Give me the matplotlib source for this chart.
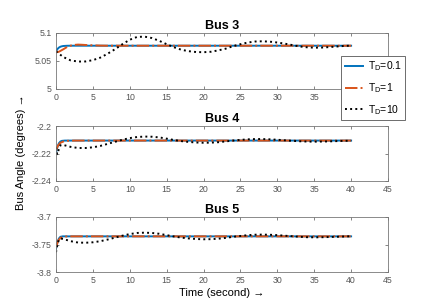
import numpy as np
import matplotlib.pyplot as plt

plt.rcParams['font.family'] = ['Liberation Sans', 'DejaVu Sans']
plt.rcParams['mathtext.fontset'] = 'custom'
plt.rcParams['mathtext.rm'] = 'Liberation Sans'

# ---- data ----
# Bus 3
t3_fast = [0, 0.2, 0.4, 0.6, 0.8, 1.0, 1.5, 2, 40]
b3_fast = [5.067, 5.0715, 5.074, 5.0755, 5.0763, 5.0768, 5.0772, 5.0773, 5.0773]
t3_mid = [0, 0.3, 0.6, 1, 1.5, 2, 2.5, 3, 3.5, 4, 5, 6, 7, 40]
b3_mid = [5.067, 5.066, 5.068, 5.071, 5.075, 5.0775, 5.0788, 5.0793, 5.079,
          5.0786, 5.078, 5.0775, 5.0773, 5.0773]
t_slow = list(range(0, 41))
b3_slow = [5.067, 5.057, 5.051, 5.049, 5.0492, 5.0515, 5.056, 5.063, 5.071, 5.080,
           5.088, 5.093, 5.0935, 5.091, 5.086, 5.080, 5.0745, 5.070, 5.0675, 5.066,
           5.0657, 5.0665, 5.069, 5.072, 5.0765, 5.080, 5.083, 5.0848, 5.0852, 5.0845,
           5.083, 5.081, 5.0785, 5.076, 5.0745, 5.0738, 5.074, 5.0748, 5.0758, 5.0768,
           5.0775]

# Bus 4
t4_fast = [0, 0.2, 0.4, 0.6, 0.8, 1.2, 40]
b4_fast = [-2.2195, -2.215, -2.2125, -2.2113, -2.2108, -2.2106, -2.2106]
t4_mid = [0, 0.3, 0.6, 1, 1.5, 2.5, 40]
b4_mid = [-2.2175, -2.214, -2.2122, -2.2113, -2.2108, -2.2106, -2.2106]
t4_slow = [0, 0.15, 0.35, 0.6] + list(range(1, 41))
b4_slow = [-2.2155, -2.2205, -2.2175, -2.2140,
           -2.2138, -2.2152, -2.2160, -2.2160, -2.2155, -2.2145, -2.2130, -2.2115,
           -2.2100, -2.2088, -2.2080, -2.2077, -2.2078, -2.2083, -2.2092, -2.2102,
           -2.2110, -2.2116, -2.2120, -2.2122, -2.2121, -2.2118, -2.2112, -2.2106,
           -2.2101, -2.2097, -2.2095, -2.2095, -2.2097, -2.2100, -2.2104, -2.2108,
           -2.2111, -2.2113, -2.2114, -2.2113, -2.2112, -2.2110, -2.2108, -2.2107]

# Bus 5
t5_fast = [0, 0.2, 0.4, 0.6, 0.9, 40]
b5_fast = [-3.758, -3.745, -3.739, -3.736, -3.7352, -3.7352]
t5_mid = [0, 0.3, 0.6, 1, 1.5, 40]
b5_mid = [-3.755, -3.743, -3.738, -3.736, -3.7352, -3.7352]
t5_slow = [0, 0.2, 0.4, 0.6] + list(range(1, 41))
b5_slow = [-3.764, -3.750, -3.741, -3.739,
           -3.740, -3.744, -3.7465, -3.7468, -3.746, -3.744, -3.741, -3.7375, -3.734,
           -3.731, -3.729, -3.7285, -3.729, -3.7305, -3.733, -3.7355, -3.7375, -3.739,
           -3.740, -3.7405, -3.7403, -3.7395, -3.738, -3.736, -3.7345, -3.733, -3.7322,
           -3.732, -3.7323, -3.733, -3.734, -3.735, -3.736, -3.7367, -3.737, -3.7368,
           -3.7364, -3.736, -3.7355, -3.735]

titles = ['Bus 3', 'Bus 4', 'Bus 5']
ylims = [(5, 5.1), (-2.24, -2.2), (-3.8, -3.7)]
yticks = [[5, 5.05, 5.1], [-2.24, -2.22, -2.2], [-3.8, -3.75, -3.7]]
ytlabels = [['5', '5.05', '5.1'], ['-2.24', '-2.22', '-2.2'], ['-3.8', '-3.75', '-3.7']]
labels = [r'T$_\mathrm{D}$=0.1', r'T$_\mathrm{D}$=1', r'T$_\mathrm{D}$=10']
series = [
    [(t3_fast, b3_fast), (t3_mid, b3_mid), (t_slow, b3_slow)],
    [(t4_fast, b4_fast), (t4_mid, b4_mid), (t4_slow, b4_slow)],
    [(t5_fast, b5_fast), (t5_mid, b5_mid), (t5_slow, b5_slow)],
]

blue = '#0072BD'
orange = '#D95319'
W, H = 429, 305
fig = plt.figure(figsize=(W / 100, H / 100), dpi=100)

# axes boxes in pixels: (left, top, right, bottom)
boxes = [(56, 33, 388, 89), (56, 126, 388, 181), (56, 217, 388, 272)]
axes = []
for k, (l, t, r, b) in enumerate(boxes):
    ax = fig.add_axes([l / W, 1 - b / H, (r - l) / W, (b - t) / H])
    (tf, yf), (tm, ym), (ts, ys) = series[k]
    ax.plot(tf, yf, color=blue, lw=1.4, label=labels[0])
    ax.plot(tm, ym, color=orange, lw=1.4, ls='-.', label=labels[1])
    ax.plot(ts, ys, color='black', lw=1.4, ls=':', label=labels[2])
    ax.set_xlim(0, 45)
    ax.set_ylim(*ylims[k])
    ax.set_xticks(np.arange(0, 50, 5))
    ax.set_yticks(yticks[k])
    ax.set_yticklabels(ytlabels[k])
    ax.tick_params(direction='in', top=True, right=True, length=2.5, width=0.5,
                   labelsize=6.3, colors='#555555', pad=3)
    for s in ax.spines.values():
        s.set_color('#777777')
        s.set_linewidth(0.6)
    ax.set_title(titles[k], fontsize=9, fontweight='bold', pad=3)
    axes.append(ax)

axes[2].set_xlabel('Time (second) →', fontsize=8, labelpad=2)
fig.text(21 / W, 1 - 152 / H, 'Bus Angle (degrees) →', rotation=90, fontsize=8,
         ha='center', va='center')

leg = axes[0].legend(loc='upper left', bbox_to_anchor=(341 / W, 1 - 56 / H),
                     bbox_transform=fig.transFigure, fontsize=7.5, handlelength=1.8,
                     handletextpad=0.4, borderpad=0.35, labelspacing=0.75,
                     borderaxespad=0, fancybox=False, framealpha=1)
leg.get_frame().set_edgecolor('#555555')
leg.get_frame().set_linewidth(0.6)
leg.set_zorder(10)

fig.savefig('out.png', dpi=100)
